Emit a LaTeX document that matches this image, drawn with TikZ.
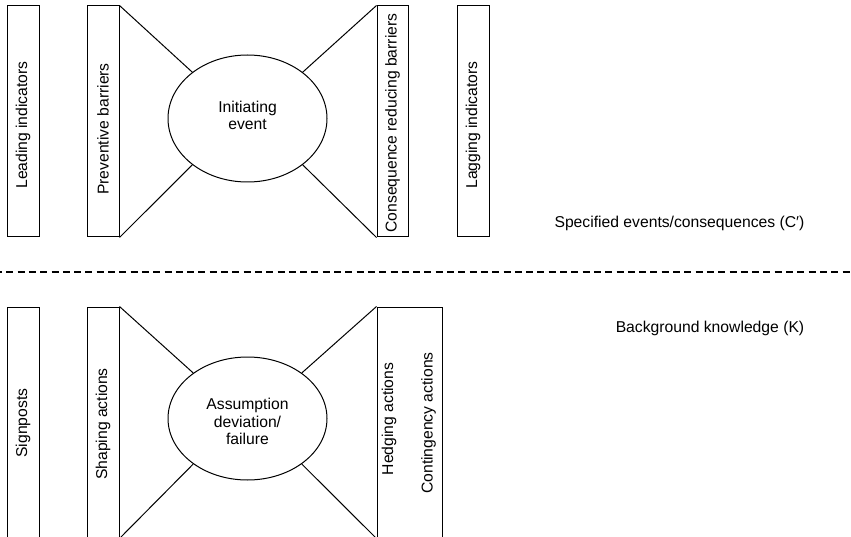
\documentclass[tikz,border=0pt]{standalone}
\usepackage{fontspec}
\setmainfont{Liberation Sans}
\usetikzlibrary{shapes.geometric}
\begin{document}
\begin{tikzpicture}[x=1pt,y=-1pt,
  every node/.style={font=\fontsize{15.7}{17.5}\selectfont},
  bar/.style={draw, line width=1pt, minimum width=32pt, minimum height=231pt, inner sep=0pt},
  vlabel/.style={rotate=90, inner sep=0pt},
  hub/.style={draw, ellipse, line width=1pt, minimum width=159pt, inner sep=0pt},
  hubtext/.style={align=center, inner sep=0pt},
  link/.style={line width=1pt},
  divider/.style={line width=2pt, dash pattern=on 7pt off 4.3pt, dash phase=5pt},
  note/.style={inner sep=0pt}]
\clip (0,0) rectangle (851,537);

% upper band: specified events
\node[bar] (lead) at (23,121.5) {};
\node[bar] (prev) at (103,121.5) {};
\node[bar, minimum width=31pt] (cons) at (392.5,121.5) {};
\node[bar] (lag) at (473,121.5) {};
\node[hub, minimum height=127pt] (ie) at (247.5,118.5) {};

\node[vlabel] (leadtxt) at (23,125) {Leading indicators};
\node[vlabel] (prevtxt) at (103,129) {Preventive barriers};
\node[vlabel] (constxt) at (392.5,123) {Consequence reducing barriers};
\node[vlabel] (lagtxt) at (473,125) {Lagging indicators};
\node[hubtext] (ietxt) at (247.5,115.5) {Initiating\\event};

\draw[link] (prev.north east) -- (ie.140);
\draw[link] (prev.south east) -- (ie.220);
\draw[link] (ie.40) -- (cons.north west);
\draw[link] (ie.320) -- (cons.south west);

\node[note] (spec) at (679.5,223.5) {Specified events/consequences (C′)};

% dividing line
\coordinate (divL) at (0,272);
\coordinate (divR) at (851,272);
\draw[divider] (divL) -- (divR);

% lower band: background knowledge
\node[note] (bk) at (710,328) {Background knowledge (K)};

\node[bar] (sign) at (23,422.5) {};
\node[bar] (shape) at (103,422.5) {};
\node[bar, minimum width=65pt] (hedge) at (409.5,422.5) {};
\node[hub, minimum height=123pt] (ad) at (247.5,418.5) {};

\node[vlabel] (signtxt) at (23,423) {Signposts};
\node[vlabel] (shapetxt) at (103,424) {Shaping actions};
\node[vlabel] (hedgetxt) at (389,419) {Hedging actions};
\node[vlabel] (conttxt) at (428.5,423) {Contingency actions};
\node[hubtext] (adtxt) at (247.5,421.5) {Assumption\\deviation/\\failure};

\draw[link] (shape.north east) -- (ad.140);
\draw[link] (shape.south east) -- (ad.220);
\draw[link] (ad.40) -- (hedge.north west);
\draw[link] (ad.320) -- (hedge.south west);
\end{tikzpicture}
\end{document}
